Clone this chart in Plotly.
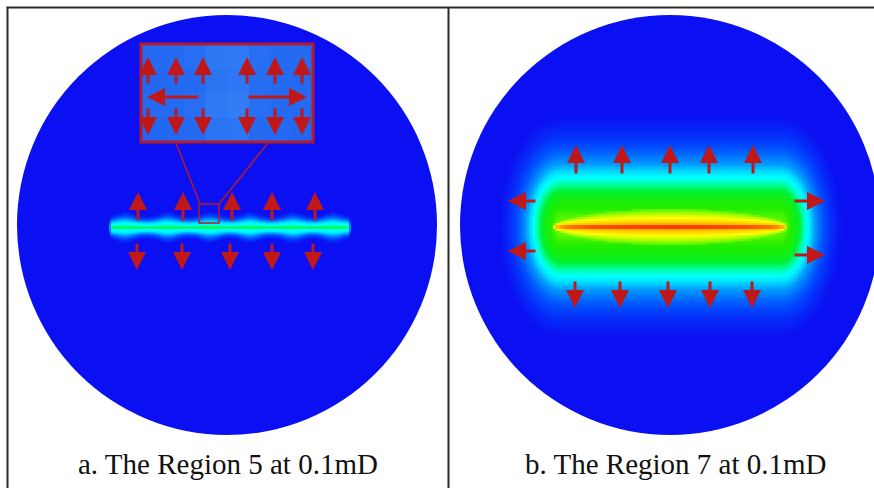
import numpy as np
import plotly.graph_objects as go

W, H = 874, 488

# ---------------- data ----------------
captions = ["a. The Region 5 at 0.1mD", "b. The Region 7 at 0.1mD"]
caption_x = [228, 676]
caption_y = 464

# reservoir discs (centre x, centre y, radius)
disc_cx = [227, 670]
disc_cy = [225, 225]
disc_r = [210, 210]

# fracture segments (x start, x end, y)
frac_a = [112, 348, 227]
frac_b = [553, 788, 227]
# flat part of the outer (green / cyan) zone in panel b
zone_b = [561, 780]

# panel a: field value vs distance from fracture
a_r = [0, 1.0, 2.5, 4.5, 7, 10, 13]
a_v = [0.47, 0.42, 0.37, 0.31, 0.19, 0.07, 0.0]
a_beads = [125, 168, 210, 250, 293, 333]

# panel b: lens-shaped core (yellow/red) and stadium-shaped outer field
b_in_r = [0, 1.5, 3.5, 9, 13, 18]
b_in_v = [1.0, 0.9, 0.8, 0.72, 0.66, 0.6]
b_out_r = [0, 10, 25, 33, 40, 47, 53, 62, 75, 92, 110]
b_out_v = [0.63, 0.6, 0.55, 0.5, 0.44, 0.38, 0.32, 0.22, 0.13, 0.05, 0.0]

# inset (zoomed) cell values
inset_cells = [
    [0.34, 0.35, 0.37, 0.46, 0.48, 0.38, 0.35, 0.34],
    [0.32, 0.33, 0.35, 0.43, 0.45, 0.36, 0.34, 0.32],
    [0.34, 0.35, 0.38, 0.48, 0.50, 0.38, 0.35, 0.34],
    [0.31, 0.33, 0.35, 0.42, 0.44, 0.35, 0.33, 0.31],
]

# arrows: (tail x, tail y, tip x, tip y)
a_up_x = [138, 183, 232, 272, 315]
a_dn_x = [137, 182, 230, 272, 313]
a_up_y = [222, 192]
a_dn_y = [242, 270]
inset_up_x = [148, 176, 203, 247, 275, 302]
inset_up_y = [85, 57]
inset_dn_y = [107, 135]
inset_h = [[200, 97, 147, 97], [247, 97, 307, 97]]
b_up_x = [576, 622, 670, 709, 753]
b_dn_x = [575, 620, 668, 710, 752]
b_up_y = [175, 145]
b_dn_y = [280, 308]
b_side = [[537, 201, 508, 201], [537, 251, 508, 251],
          [793, 201, 825, 201], [793, 255, 825, 255]]

# ---------------- styling ----------------
BASE = "#0b10f2"
ARROW = "#c01818"
BOXRED = "#b31b2a"
jet = [
    [0.00, BASE], [0.10, "#0048ff"], [0.20, "#0090ff"], [0.30, "#00e0ff"],
    [0.36, "#00ffff"], [0.42, "#00ffa0"], [0.48, "#00f030"], [0.57, "#20ee00"],
    [0.62, "#70f800"], [0.67, "#c8ff00"], [0.72, "#ffff00"], [0.84, "#ffa000"],
    [0.93, "#ff4000"], [1.00, "#c80000"],
]

fig = go.Figure()

# ---- panel a field ----
xa = np.arange(96, 366, 2.0)
ya = np.arange(205, 250, 1.0)
XA, YA = np.meshgrid(xa, ya)
dxa = np.maximum(0, np.maximum(frac_a[0] - XA, XA - frac_a[1]))
dya = np.abs(YA - frac_a[2])
bead = np.zeros_like(XA)
for bx in a_beads:
    bead = np.maximum(bead, np.exp(-((XA - bx) / 11.0) ** 2))
ra = np.sqrt((3.0 * dxa) ** 2 + dya ** 2) / (0.85 + 0.4 * bead)
za = np.interp(ra, a_r, a_v)
fig.add_trace(go.Heatmap(x=xa, y=ya, z=za, colorscale=jet, zmin=0, zmax=1,
                         showscale=False, hoverinfo="skip"))

# ---- panel b field ----
xb = np.arange(480, 862, 2.0)
yb = np.arange(100, 356, 2.0)
XB, YB = np.meshgrid(xb, yb)
dxb = np.maximum(0, np.maximum(zone_b[0] - XB, XB - zone_b[1]))
dyb = np.abs(YB - frac_b[2])
reff = np.sqrt((1.8 * dxb) ** 2 + dyb ** 2)
zout = np.interp(reff, b_out_r, b_out_v)
t = (XB - frac_b[0]) / (frac_b[1] - frac_b[0])
lens = np.sqrt(np.clip(1 - (2 * t - 1) ** 2, 0, 1))
rin = np.where(lens > 0.02, dyb / np.maximum(lens, 0.02), 1e3)
zin = np.interp(rin, b_in_r, b_in_v, right=0.0)
zb = np.maximum(zout, zin)
inside = (XB - disc_cx[1]) ** 2 + (YB - disc_cy[1]) ** 2 < (disc_r[1] - 3) ** 2
zb = np.where(inside, zb, np.nan)
fig.add_trace(go.Heatmap(x=xb, y=yb, z=zb, colorscale=jet, zmin=0, zmax=1,
                         showscale=False, hoverinfo="skip"))

# ---- inset ----
ix0, ix1, iy0, iy1 = 141, 313, 44, 142
ncol = len(inset_cells[0])
nrow = len(inset_cells)
icx = ix0 + (np.arange(ncol) + 0.5) * (ix1 - ix0) / ncol
icy = iy0 + (np.arange(nrow) + 0.5) * (iy1 - iy0) / nrow
fig.add_trace(go.Heatmap(x=icx, y=icy, z=inset_cells,
                         colorscale=[[0, "#1a5aef"], [1, "#3f94f8"]],
                         zmin=0.2, zmax=0.7, showscale=False, hoverinfo="skip"))

shapes = []
for cx, cy, r in zip(disc_cx, disc_cy, disc_r):
    shapes.append(dict(type="circle", xref="x", yref="y", x0=cx - r, x1=cx + r,
                       y0=cy - r, y1=cy + r, fillcolor=BASE,
                       line=dict(width=0), layer="below"))
# inset frame, small box and connectors
shapes.append(dict(type="rect", xref="x", yref="y", x0=ix0, x1=ix1, y0=iy0, y1=iy1,
                   line=dict(color=BOXRED, width=3)))
shapes.append(dict(type="rect", xref="x", yref="y", x0=199, x1=219, y0=204, y1=223,
                   line=dict(color=BOXRED, width=1.5)))
shapes.append(dict(type="line", xref="x", yref="y", x0=200, y0=204, x1=176, y1=143,
                   line=dict(color=BOXRED, width=1.5)))
shapes.append(dict(type="line", xref="x", yref="y", x0=219, y0=204, x1=268, y1=143,
                   line=dict(color=BOXRED, width=1.5)))
# frame lines
shapes.append(dict(type="line", xref="x", yref="y", x0=7.5, y0=7, x1=7.5, y1=H,
                   line=dict(color="#2a2a2a", width=2)))
shapes.append(dict(type="line", xref="x", yref="y", x0=6.5, y0=7.5, x1=W, y1=7.5,
                   line=dict(color="#2a2a2a", width=2)))
shapes.append(dict(type="line", xref="x", yref="y", x0=448.5, y0=7, x1=448.5, y1=H,
                   line=dict(color="#2a2a2a", width=2)))

annotations = []


def arrow(x0, y0, x1, y1):
    annotations.append(dict(x=x1, y=y1, ax=x0, ay=y0, xref="x", yref="y",
                            axref="x", ayref="y", text="", showarrow=True,
                            arrowhead=2, arrowsize=1.2, arrowwidth=3,
                            arrowcolor=ARROW, standoff=0, startstandoff=0))


for x in a_up_x:
    arrow(x, a_up_y[0], x, a_up_y[1])
for x in a_dn_x:
    arrow(x, a_dn_y[0], x, a_dn_y[1])
for x in inset_up_x:
    arrow(x, inset_up_y[0], x, inset_up_y[1])
    arrow(x, inset_dn_y[0], x, inset_dn_y[1])
for s in inset_h:
    arrow(*s)
for x in b_up_x:
    arrow(x, b_up_y[0], x, b_up_y[1])
for x in b_dn_x:
    arrow(x, b_dn_y[0], x, b_dn_y[1])
for s in b_side:
    arrow(*s)

for txt, cx in zip(captions, caption_x):
    annotations.append(dict(x=cx, y=caption_y, xref="x", yref="y", text=txt,
                            showarrow=False, xanchor="center", yanchor="middle",
                            font=dict(family="Liberation Serif, Times New Roman, serif",
                                      size=29, color="#111111")))

fig.update_layout(
    width=W, height=H, margin=dict(l=0, r=0, t=0, b=0),
    paper_bgcolor="white", plot_bgcolor="white",
    xaxis=dict(range=[0, W], visible=False, fixedrange=True),
    yaxis=dict(range=[H, 0], visible=False, fixedrange=True),
    shapes=shapes, annotations=annotations, showlegend=False,
)

fig.write_html("out.html")
